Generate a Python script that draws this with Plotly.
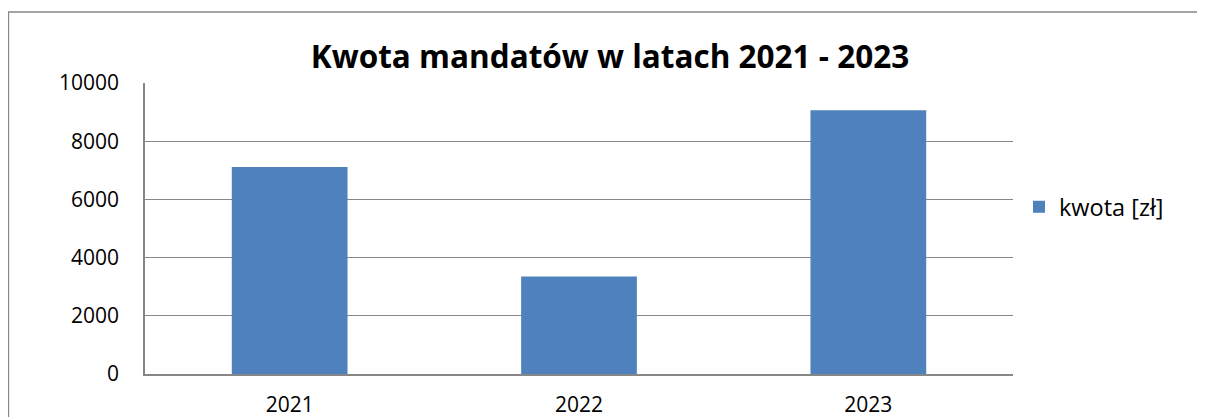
import plotly.graph_objects as go

years = ["2021", "2022", "2023"]
kwota = [7110, 3350, 9060]
series_name = "kwota [zł]"
title_text = "Kwota mandatów w latach 2021 - 2023"
y_ticks = [0, 2000, 4000, 6000, 8000, 10000]
y_tick_labels = ["0", "2000", "4000", "6000", "8000", "10000"]

# page has an 8px body margin: figure origin sits at page (8, 8)
OFF = 8
W, H = 1205 - OFF, 417 - OFF
L, R, T, B = 145 - OFF, 192, 83 - OFF, 43
pw = W - L - R
ph = H - T - B

FONT = "Open Sans"

fig = go.Figure()
fig.add_trace(go.Bar(
    x=years, y=kwota, name=series_name,
    marker=dict(color="#4F81BD", line=dict(width=0)),
    width=0.4,
))

def px_x(p):  # page pixel -> paper x
    return (p - OFF - L) / pw

def px_y(p):  # page pixel -> paper y
    return (H - B - (p - OFF)) / ph

fig.update_layout(
    width=W, height=H,
    margin=dict(l=L, r=R, t=T, b=B, pad=0, autoexpand=False),
    paper_bgcolor="white", plot_bgcolor="white",
    font=dict(family=FONT, color="#000000", size=21),
    title=dict(text="<b>" + title_text + "</b>", x=px_x(610), xanchor="center", xref="paper",
               y=1 - (57 - OFF) / H, yanchor="middle", yref="container",
               font=dict(family=FONT, size=31.5, color="#000000")),
    showlegend=True,
    legend=dict(x=px_x(1019), xanchor="left", y=px_y(207), yanchor="middle",
                font=dict(family=FONT, size=23.5), bgcolor="rgba(0,0,0,0)",
                itemwidth=30),
    xaxis=dict(type="category", showgrid=False, showline=True, linecolor="#878787", linewidth=1.5,
               ticks="", ticklabelstandoff=11, tickfont=dict(size=21), zeroline=False,
               automargin=False),
    yaxis=dict(range=[0, 10000], tickvals=y_ticks, ticktext=y_tick_labels,
               showgrid=True, gridcolor="#878787", gridwidth=1.3,
               showline=True, linecolor="#878787", linewidth=1.5, ticks="",
               ticklabelstandoff=20, tickfont=dict(size=21), zeroline=False,
               automargin=False),
    shapes=[dict(type="rect", xref="paper", yref="paper",
                 x0=px_x(8.5), x1=px_x(1300), y0=px_y(12), y1=px_y(500),
                 line=dict(color="#878787", width=1.3), fillcolor="rgba(0,0,0,0)", layer="below")],
)

fig.write_html("out.html")
